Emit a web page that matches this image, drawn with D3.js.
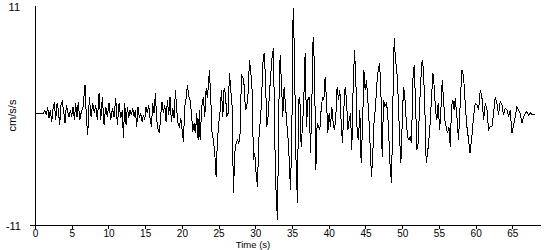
<!DOCTYPE html>
<html>
<head>
	<meta charset="utf-8">
	<title>Acceleration record</title>
	<script src="https://d3js.org/d3.v7.min.js"></script>
	<style>
		body { margin: 0; background: #fff; }
		text { font-family: "Liberation Sans", Arial, sans-serif; font-size: 11px; fill: #000; }
	</style>
</head>
<body>
	<script>
		var width = 550, height = 250;

		// peaks and troughs (time in s, acceleration in cm/s/s)
		var times = [
			0, 1.14, 1.36, 1.54, 1.73, 1.91, 2.09, 2.27, 2.45, 2.63, 2.82, 3.0, 3.18, 3.36, 3.54, 3.72, 3.91, 4.09, 4.27, 4.45,
			4.63, 4.81, 5.0, 5.18, 5.36, 5.54, 5.72, 5.9, 6.09, 6.27, 6.54, 6.81, 6.99, 7.18, 7.4, 7.63, 7.86, 8.08, 8.27, 8.49,
			8.72, 8.95, 9.17, 9.4, 9.63, 9.85, 10.08, 10.31, 10.54, 10.76, 10.99, 11.22, 11.44, 11.67, 11.9,
			12.03, 12.22, 12.4, 12.58, 12.76, 12.94, 13.12, 13.31, 13.49, 13.67, 13.85, 14.03, 14.21, 14.4, 14.58, 14.76, 14.94,
			15.12, 15.3, 15.49, 15.67, 15.85, 16.03, 16.21, 16.39, 16.58, 16.76, 16.94, 17.12, 17.3, 17.48, 17.67, 17.85, 18.03,
			18.21, 18.39, 18.57, 18.76, 18.94, 19.12, 19.3, 19.48, 19.66, 19.85, 20.03, 20.21, 20.39, 20.57, 20.75, 20.94, 21.12,
			21.3, 21.48, 21.66, 21.84, 22.03, 22.21, 22.39,
			22.48, 22.71, 22.93, 23.12, 23.3, 23.48, 23.66, 23.75, 23.93, 24.11, 24.3, 24.48, 24.66, 24.84, 25.02, 25.2, 25.39,
			25.57, 25.75, 25.93, 26.11, 26.29, 26.48, 26.66, 26.84, 27.02, 27.2, 27.38, 27.57, 27.75, 27.93, 28.11, 28.29, 28.47,
			28.66, 28.84, 29.02, 29.2, 29.38, 29.56, 29.75, 29.93, 30.11, 30.29, 30.47, 30.65, 30.84, 31.02, 31.2, 31.38, 31.56,
			31.74, 31.93, 32.11, 32.29, 32.47, 32.65, 32.83, 33.02, 33.2, 33.38, 33.56, 33.74, 33.92,
			34.29, 34.51, 34.79, 34.97, 35.15, 35.33, 35.51, 35.74, 35.88, 36.06, 36.24, 36.42, 36.6, 36.78, 36.97, 37.15, 37.33,
			37.51, 37.69, 37.87, 38.06, 38.24, 38.42, 38.6, 38.78, 38.96, 39.15, 39.33, 39.51, 39.69, 39.87, 40.05, 40.24, 40.42,
			40.6, 40.78, 40.96, 41.14, 41.33, 41.51, 41.69, 41.87, 42.05, 42.23, 42.42, 42.6, 42.78, 42.96, 43.14, 43.32, 43.51,
			43.69, 43.87, 44.05, 44.23, 44.41, 44.6, 44.78, 44.96, 45.14, 45.32, 45.5,
			45.82, 46.0, 46.18, 46.37, 46.55, 46.73, 46.91, 47.09, 47.27, 47.46, 47.64, 47.82, 48.0, 48.18, 48.36, 48.55, 48.73,
			48.91, 49.09, 49.27, 49.45, 49.64, 49.82, 50.0, 50.18, 50.36, 50.54, 50.73, 50.91, 51.09, 51.27, 51.45, 51.63, 51.82,
			52.0, 52.18, 52.36, 52.54, 52.72, 52.9, 53.09, 53.27, 53.45, 53.63, 53.81, 54.0, 54.18, 54.36, 54.54, 54.72, 54.9,
			55.09, 55.27, 55.45, 55.63, 55.81, 55.99, 56.18, 56.36, 56.54, 56.72, 56.9, 57.08,
			57.22, 57.45, 57.67, 57.9, 58.13, 58.36, 58.58, 58.81, 59.04, 59.22, 59.49, 59.72, 59.94, 60.17, 60.4, 60.63, 60.85,
			61.08, 61.31, 61.53, 61.76, 61.99, 62.22, 62.44, 62.67, 62.9, 63.12, 63.35, 63.58, 63.8, 64.03, 64.26, 64.49, 64.71,
			64.94, 65.17, 65.4, 65.62, 65.85, 66.08, 66.3, 66.53, 66.76, 66.98, 67.21, 67.44, 67.67, 68.12
		];
		var accel = [
			0.2, 0.2, 0.49, 0.05, 0.82, -0.28, 0.55, -0.62, 0.62, 1.32, -0.45, 1.22, 0.55, -0.95, 1.06, 1.39, 0.38, -0.79, 1.06, 0.38,
			-0.12, 0.55, -0.12, 0.89, -0.45, 1.22, -0.12, 1.39, -0.45, 0.22, 0.89, 3.07, -0.12, -1.96, 1.89, -0.12, 1.22, 0.22, 1.06, -0.45,
			2.23, -0.45, 1.89, -0.95, 0.89, -0.12, 1.22, -0.45, 0.72, -0.12, 1.72, -0.95, 1.22, -0.29, 0.55,
			-2.3, 1.22, -0.95, 0.89, -0.29, 0.55, 0.05, 0.72, -0.12, 0.55, -1.12, 0.89, -0.29, 0.22, -0.62, 0.05, -0.45,
			0.89, 0.22, 1.06, -0.29, -1.12, 1.22, 0.22, 2.23, -0.45, -1.46, -1.79, 0.05, 1.39, 0.22, 1.06, -0.62, 1.56,
			0.05, 1.89, -0.62, 0.72, -0.29, 2.56, 0.55, -0.79, -1.12, -0.29, -1.46, -2.63, 0.89, 1.73, 3.07, 1.89, 1.56,
			0.22, -1.62, -0.79, -1.79, 0.22, -2.46, 0.55,
			-2.46, 0.89, 1.89, -0.12, 2.73, 1.72, 3.57, 4.57, 1.72, -1.79, -2.46, -3.8, -6.15, -2.46, -0.79, 0.39, 2.56,
			-0.12, 2.73, 2.23, -0.12, 0.22, 4.24, 2.56, 0.89, -7.82, -3.8, -2.8, -2.46, -2.8, -1.79, 4.07, 3.9, 3.07,
			0.55, 0.89, 2.23, 5.6, 4.4, 2.56, -4.47, -3.8, -5.81, -7.15, -2.46, -0.79, 1.22, 5.24, 6.25, 3.9, -1.12,
			-0.12, 2.23, 4.24, 5.91, 6.75, -2.46, -7.82, -10.5, 0.89, 6.08, 3.23, -0.12, 2.9,
			-0.79, -2.8, -7.5, -1.8, 10.77, 6.25, -3.8, -8.83, 1.56, 1.89, -3.13, -1.12, 1.56, 6.25, -1.12, 1.56, 1.89,
			-3.8, 0.89, 7.92, 4.91, -5.48, -0.79, -1.12, -1.46, 0.55, 1.89, 1.56, 3.9, 1.56, -1.79, 0.22, -1.12, 0.89,
			-0.79, -1.46, -0.12, 2.9, 1.56, 2.56, -0.79, -2.8, 0.55, 2.9, 1.56, -1.46, -0.45, 0.22, -3.47, 2.9, 6.58,
			3.57, -1.79, -2.46, 0.55, -4.81, -1.12, 4.57, 2.56, 3.57, 1.56, -0.79,
			-6.15, -3.8, -0.45, 0.89, 3.23, 4.57, 5.24, 2.9, -4.14, 1.56, 0.89, 1.22, 0.55, -2.13, -5.14, -6.82, 1.22,
			7.75, 5.58, 4.57, 1.89, -2.13, -4.81, -0.79, 2.9, 1.89, -0.45, -2.13, -2.46, -2.13, -2.8, 3.57, 5.08, 1.22,
			-3.47, -2.8, 0.89, 3.57, 5.58, 4.57, 0.55, -4.81, -3.8, -2.46, -0.79, 1.89, 4.24, 2.9, 0.55, -0.45, 1.22,
			-1.46, 0.55, 3.57, 1.56, -0.45, -1.12, -1.79, -1.12, -3.13, 0.89, 1.56, 0.55,
			1.73, -0.12, -2.46, 1.22, 4.57, 3.9, 1.22, -1.12, -2.46, -3.8, -2.13, -0.12, 1.22, 1.06, 0.55, 2.56, 1.89,
			-0.45, 1.22, 0.72, -1.46, -1.12, -1.12, 0.22, 1.89, 1.22, 0.05, 1.39, 1.06, 0.05, 0.72, 0.55, -0.12, 0.55,
			-1.79, -0.95, -0.12, 0.89, 0.55, 0.22, -0.79, -0.12, 0.22, 0.39, 0.05, 0.28, 0.12, 0.12
		];
		var timeTicks = [0, 5, 10, 15, 20, 25, 30, 35, 40, 45, 50, 55, 60, 65];
		var yMax = 11, yMin = -11;

		var x = d3.scaleLinear().domain([0, 68.9]).range([35, 541]);
		var y = d3.scaleLinear().domain([yMin, yMax]).range([225, 6]);

		var svg = d3.select("body").append("svg").attr("width", width).attr("height", height);

		var pts = times.map(function(t, i){ return [t, accel[i]]; });
		var line = d3.line().x(function(d){return x(d[0]);}).y(function(d){return y(d[1]);});

		svg.append("path")
			.datum(pts)
			.attr("d", line)
			.attr("fill", "none")
			.attr("stroke", "#000")
			.attr("stroke-width", 1)
			.attr("shape-rendering", "crispEdges");

		// x axis
		var xAxis = d3.axisBottom(x).tickValues(timeTicks).tickSize(4).tickSizeOuter(0).tickPadding(1);
		var gx = svg.append("g").attr("transform", "translate(0," + y(yMin) + ")").call(xAxis);
		gx.select(".domain").remove();
		gx.selectAll("line").attr("stroke", "#000").attr("shape-rendering", "crispEdges");
		gx.selectAll("text").attr("font-family", null).attr("font-size", null).style("font-size", "10px");
		gx.append("line").attr("x1", 30).attr("x2", x.range()[1]).attr("y1", 0.5).attr("y2", 0.5).attr("stroke", "#000");

		// y axis
		svg.append("line").attr("x1", x(0) + 0.5).attr("x2", x(0) + 0.5)
			.attr("y1", y(yMax)).attr("y2", y(yMin)).attr("stroke", "#000");
		svg.append("text").attr("x", 20).attr("y", y(yMax) + 4.5).attr("text-anchor", "end").text(yMax);
		svg.append("text").attr("x", 21).attr("y", y(yMin) + 4.5).attr("text-anchor", "end").text(yMin);
		svg.append("text").attr("transform", "translate(16," + y(0) + ") rotate(-90)")
			.attr("text-anchor", "middle").text("cm/s/s");

		svg.append("text").attr("x", 253).attr("y", 248.3).attr("text-anchor", "middle")
			.style("font-size", "9.5px").text("Time (s)");
	</script>
</body>
</html>
